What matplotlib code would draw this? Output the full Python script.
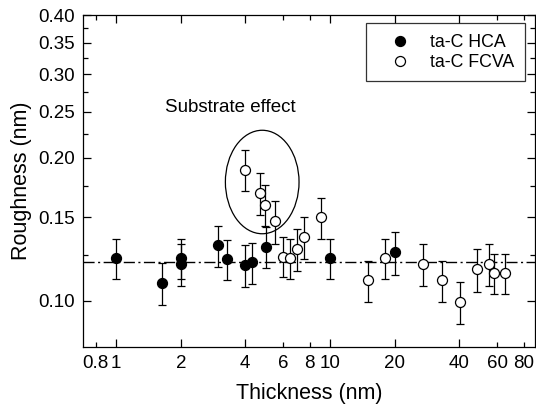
import matplotlib
matplotlib.use("Agg")
import matplotlib.pyplot as plt
from matplotlib.patches import Ellipse
from matplotlib.lines import Line2D
from matplotlib.ticker import FixedLocator, NullFormatter, FuncFormatter

plt.rcParams["font.family"] = ["Liberation Sans", "DejaVu Sans"]

# ta-C HCA (filled)
hca_x = [1.0, 1.64, 2.0, 2.0, 3.0, 3.3, 4.0, 4.32, 5.02, 10.0, 20.0]
hca_y = [0.123, 0.109, 0.123, 0.1195, 0.131, 0.1225, 0.119, 0.1205, 0.130, 0.123, 0.1265]
hca_err = [0.012, 0.011, 0.012, 0.012, 0.013, 0.012, 0.012, 0.012, 0.013, 0.012, 0.013]

# ta-C FCVA (open)
fcva_x = [4.0, 4.67, 4.92, 5.51, 5.97, 6.5, 7.01, 7.53, 9.01, 15.0, 17.9,
          26.9, 33.0, 40.2, 48.1, 54.9, 57.9, 65.2]
fcva_y = [0.189, 0.169, 0.1595, 0.147, 0.124, 0.123, 0.1286, 0.1365, 0.150,
          0.1106, 0.123, 0.1195, 0.1106, 0.0995, 0.1165, 0.1195, 0.1144, 0.1144]
fcva_err = [0.019, 0.017, 0.016, 0.015, 0.012, 0.012, 0.013, 0.014, 0.015,
            0.011, 0.012, 0.012, 0.011, 0.010, 0.012, 0.012, 0.011, 0.011]

ref_level = 0.121

x_major = [1, 2, 4, 10, 20, 40]
x_minor = [0.8, 6, 8, 60, 80]
y_major = [0.10, 0.15, 0.20, 0.25, 0.30, 0.35, 0.40]
y_minor = [0.125, 0.175, 0.225, 0.275, 0.325, 0.375]

fig = plt.figure(figsize=(5.36, 4.09), dpi=100)
ax = fig.add_axes([0.155, 0.152, 0.843, 0.811])

ax.set_xscale("log")
ax.set_yscale("log")
ax.set_xlim(0.7, 90)
ax.set_ylim(0.08, 0.40)

ax.axhline(ref_level, color="black", lw=1.0, ls=(0, (8, 2.5, 1.5, 2.5)), zorder=1)

ebkw = dict(fmt="o", ms=7.2, ecolor="black", elinewidth=0.9, capsize=2.8,
            capthick=0.9, mec="black", mew=0.9, zorder=3)
ax.errorbar(hca_x, hca_y, yerr=hca_err, mfc="black", **ebkw)
ax.errorbar(fcva_x, fcva_y, yerr=fcva_err, mfc="white", **ebkw)

# ellipse around the thin FCVA films (drawn in axes space)
cx, cy = ax.transAxes.inverted().transform(ax.transData.transform((4.8, 0.178)))
ax.add_patch(Ellipse((cx, cy), 0.163, 0.312, transform=ax.transAxes,
                     fill=False, edgecolor="black", lw=0.9, zorder=2))
ax.text(3.4, 0.256, "Substrate effect", fontsize=13.5, ha="center", va="center")

fmt = FuncFormatter(lambda v, p: f"{v:g}")
ax.xaxis.set_major_locator(FixedLocator(x_major))
ax.xaxis.set_minor_locator(FixedLocator(x_minor))
ax.xaxis.set_major_formatter(fmt)
ax.xaxis.set_minor_formatter(fmt)
ax.yaxis.set_major_locator(FixedLocator(y_major))
ax.yaxis.set_minor_locator(FixedLocator(y_minor))
ax.yaxis.set_major_formatter(FuncFormatter(lambda v, p: f"{v:.2f}"))
ax.yaxis.set_minor_formatter(NullFormatter())

ax.tick_params(which="both", direction="in", top=True, right=True,
               labelsize=13.5, pad=6)
ax.tick_params(which="major", length=6, width=0.9)
ax.tick_params(which="minor", length=3.5, width=0.9)
for s in ax.spines.values():
    s.set_linewidth(0.9)

ax.set_xlabel("Thickness (nm)", fontsize=15.5, labelpad=8)
ax.set_ylabel("Roughness (nm)", fontsize=15.5, labelpad=4)

handles = [
    Line2D([], [], ls="none", marker="o", ms=7.2, mfc="black", mec="black", mew=0.9),
    Line2D([], [], ls="none", marker="o", ms=7.2, mfc="white", mec="black", mew=0.9),
]
leg = ax.legend(handles, ["ta-C HCA", "ta-C FCVA"], loc="upper right",
                bbox_to_anchor=(0.978, 0.975), borderaxespad=0, fontsize=12.8,
                frameon=True, fancybox=False, edgecolor="black",
                handletextpad=0.4, borderpad=0.6, labelspacing=0.15,
                handlelength=2.6)
leg.get_frame().set_linewidth(0.9)

fig.savefig("out.png", dpi=100)
